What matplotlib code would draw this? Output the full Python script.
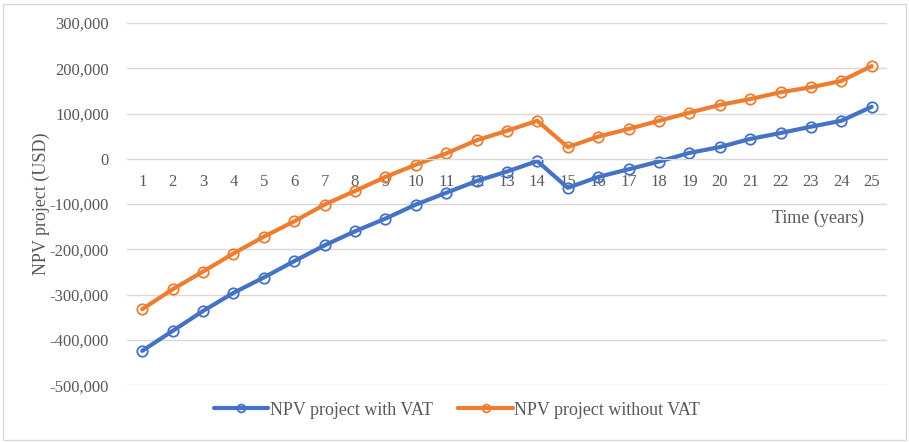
import matplotlib.pyplot as plt
from matplotlib.ticker import FuncFormatter
from matplotlib.patches import Rectangle

years = list(range(1, 26))
npv_with_vat = [-424000, -380000, -336000, -296000, -262000, -226000, -191000, -160000,
                -132000, -101000, -75000, -49000, -28000, -5000, -64000, -40000, -23000,
                -6000, 13000, 26000, 44000, 57000, 71000, 84000, 115000]
npv_without_vat = [-332000, -288000, -249000, -209000, -172000, -138000, -101000, -71000,
                   -40000, -13000, 12000, 41000, 62000, 84000, 26000, 49000, 66000, 84000,
                   102000, 119000, 132000, 147000, 158000, 172000, 205000]
y_ticks = list(range(-500000, 300001, 100000))

blue = "#4472C4"
orange = "#ED7D31"
grey = "#595959"

plt.rcParams['font.family'] = ['Liberation Serif', 'DejaVu Serif']

fig = plt.figure(figsize=(9.09, 4.42), dpi=100)
ax = fig.add_axes([0.1397, 0.1283, 0.836, 0.8197])

for vals, col, name in [(npv_with_vat, blue, "NPV project with VAT"),
                        (npv_without_vat, orange, "NPV project without VAT")]:
    ax.plot(years, vals, color=col, lw=3, marker="o", ms=7.5, mfc="none",
            mec=col, mew=1.3, label=name, solid_capstyle="round")

ax.set_xlim(0.5, 25.5)
ax.set_ylim(-500000, 300000)
ax.set_yticks(y_ticks)
ax.yaxis.set_major_formatter(FuncFormatter(lambda v, p: f"{int(v):,}"))
ax.set_xticks(years)
ax.grid(axis="y", color="#D9D9D9", lw=1)
ax.set_axisbelow(True)
for s in ["top", "right", "left"]:
    ax.spines[s].set_visible(False)
ax.spines["bottom"].set_position(("data", 0))
ax.spines["bottom"].set_color("#D9D9D9")
ax.tick_params(axis="both", length=0, labelsize=12, labelcolor=grey)
ax.tick_params(axis="x", pad=11)
ax.tick_params(axis="y", pad=13)

ax.set_ylabel("NPV project (USD)", fontsize=13, color=grey, labelpad=0)
fig.text(0.90, 0.505, "Time (years)", fontsize=13, color=grey, ha="center", va="center")

fig.legend(loc="center", bbox_to_anchor=(0.503, 0.072), ncol=2, frameon=False,
           fontsize=13, labelcolor=grey, handlelength=3.0, columnspacing=1.4, handletextpad=0.1,
           markerscale=0.75)

fig.patches.append(Rectangle((0.003, 0.005), 0.994, 0.985, transform=fig.transFigure,
                             fill=False, edgecolor="#D9D9D9", lw=1))

fig.savefig("out.png", dpi=100)
